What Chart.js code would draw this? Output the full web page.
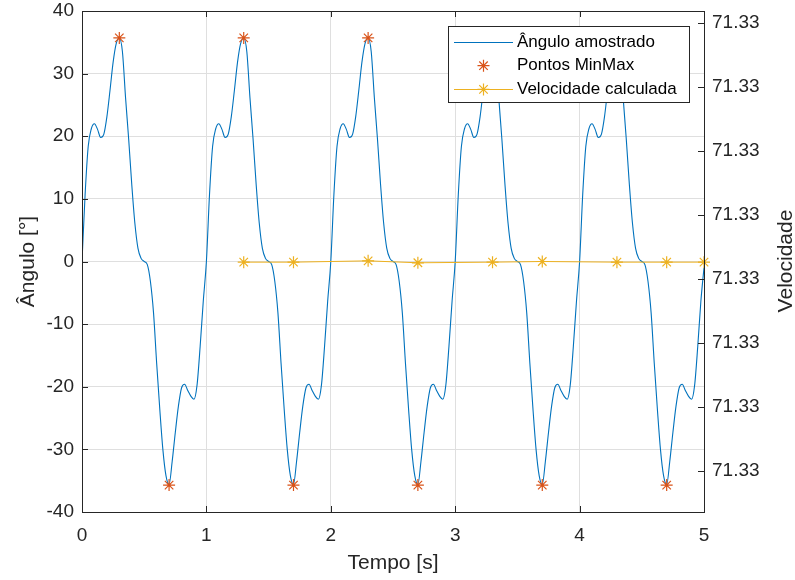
<!DOCTYPE html>
<html>
<head>
<meta charset="utf-8">
<script src="https://cdn.jsdelivr.net/npm/chart.js@4.4.1/dist/chart.umd.min.js"></script>
<style>
  body { margin: 0; background: #fff; }
</style>
</head>
<body>
<canvas id="angleChart" width="795" height="580"></canvas>
<script>
// sampled angle, one value every 0.025 s from 0 to 5 s
const sampleStep = 0.025;
const angleValues = [
  0, 10.7, 18.4, 21.2, 22.0, 21.1, 19.8, 20.3, 23.1, 27.3,
  31.8, 34.8, 35.7, 33.5, 26.2, 19.6, 12.3, 6.1, 2.1, 0.5,
  0, -0.5, -3.2, -8.2, -16.2, -23.5, -30.0, -34.2, -35.6, -31.9,
  -27.3, -23.1, -20.2, -19.6, -20.6, -21.5, -22.0, -19.7, -13.5, -6.3,
  0, 10.7, 18.4, 21.2, 22.0, 21.1, 19.8, 20.3, 23.1, 27.3,
  31.8, 34.8, 35.7, 33.5, 26.2, 19.6, 12.3, 6.1, 2.1, 0.5,
  0, -0.5, -3.2, -8.2, -16.2, -23.5, -30.0, -34.2, -35.6, -31.9,
  -27.3, -23.1, -20.2, -19.6, -20.6, -21.5, -22.0, -19.7, -13.5, -6.3,
  0, 10.7, 18.4, 21.2, 22.0, 21.1, 19.8, 20.3, 23.1, 27.3,
  31.8, 34.8, 35.7, 33.5, 26.2, 19.6, 12.3, 6.1, 2.1, 0.5,
  0, -0.5, -3.2, -8.2, -16.2, -23.5, -30.0, -34.2, -35.6, -31.9,
  -27.3, -23.1, -20.2, -19.6, -20.6, -21.5, -22.0, -19.7, -13.5, -6.3,
  0, 10.7, 18.4, 21.2, 22.0, 21.1, 19.8, 20.3, 23.1, 27.3,
  31.8, 34.8, 35.7, 33.5, 26.2, 19.6, 12.3, 6.1, 2.1, 0.5,
  0, -0.5, -3.2, -8.2, -16.2, -23.5, -30.0, -34.2, -35.6, -31.9,
  -27.3, -23.1, -20.2, -19.6, -20.6, -21.5, -22.0, -19.7, -13.5, -6.3,
  0, 10.7, 18.4, 21.2, 22.0, 21.1, 19.8, 20.3, 23.1, 27.3,
  31.8, 34.8, 35.7, 33.5, 26.2, 19.6, 12.3, 6.1, 2.1, 0.5,
  0, -0.5, -3.2, -8.2, -16.2, -23.5, -30.0, -34.2, -35.6, -31.9,
  -27.3, -23.1, -20.2, -19.6, -20.6, -21.5, -22.0, -19.7, -13.5, -6.3,
  -1
];

const minMaxTimes = [0.3, 0.7, 1.3, 1.7, 2.3, 2.7, 3.3, 3.7, 4.3, 4.7];
const minMaxValues = [35.7, -35.7, 35.7, -35.7, 35.7, -35.7, 35.7, -35.7, 35.7, -35.7];

const velTimes = [1.3, 1.7, 2.3, 2.7, 3.3, 3.7, 4.3, 4.7, 5.0];
const velValues = [71.33330426, 71.33330426, 71.33330428, 71.33330425, 71.33330426,
  71.33330427, 71.33330426, 71.33330426, 71.33330426];

const xTicks = [0, 1, 2, 3, 4, 5];
const angleTicks = [-40, -30, -20, -10, 0, 10, 20, 30, 40];
const velTicks = [71.333301, 71.333302, 71.333303, 71.333304, 71.333305, 71.333306, 71.333307, 71.333308];
const velMin = 71.33330036;
const velMax = 71.33330818;

const BLUE = "#0072BD";
const RED = "#D95319";
const YELLOW = "#EDB120";
const AXIS = "#262626";
const GRID = "#dfdfdf";
const FONT = "'Liberation Sans', Arial, sans-serif";

const anglePoints = angleValues.map((v, i) => ({ x: i * sampleStep, y: v }));
const minMaxPoints = minMaxTimes.map((t, i) => ({ x: t, y: minMaxValues[i] }));
const velPoints = velTimes.map((t, i) => ({ x: t, y: velValues[i] }));

function px(v) {
  return Math.round(v) + 0.5;
}

// MATLAB style box, inward ticks, legend and right label
const matlabAxes = {
  id: "matlabAxes",
  afterDatasetsDraw(chart) {
    const { ctx, chartArea: a, scales } = chart;
    const tick = 6;
    ctx.save();
    ctx.strokeStyle = AXIS;
    ctx.lineWidth = 1;
    ctx.beginPath();
    xTicks.forEach((t) => {
      const x = px(scales.x.getPixelForValue(t));
      ctx.moveTo(x, a.bottom);
      ctx.lineTo(x, a.bottom - tick);
      ctx.moveTo(x, a.top);
      ctx.lineTo(x, a.top + tick);
    });
    angleTicks.forEach((v) => {
      const y = px(scales.y.getPixelForValue(v));
      ctx.moveTo(a.left, y);
      ctx.lineTo(a.left + tick, y);
    });
    velTicks.forEach((v) => {
      const y = px(scales.y2.getPixelForValue(v));
      ctx.moveTo(a.right, y);
      ctx.lineTo(a.right - tick, y);
    });
    ctx.stroke();
    ctx.strokeRect(px(a.left), px(a.top), Math.round(a.right - a.left), Math.round(a.bottom - a.top));
    ctx.restore();
  },
  afterDraw(chart) {
    const { ctx } = chart;
    ctx.save();

    // right axis title, read bottom to top
    ctx.translate(786, 261);
    ctx.rotate(-Math.PI / 2);
    ctx.fillStyle = AXIS;
    ctx.font = "21px " + FONT;
    ctx.textAlign = "center";
    ctx.textBaseline = "middle";
    ctx.fillText("Velocidade", 0, 0);
    ctx.setTransform(1, 0, 0, 1, 0, 0);

    // legend box
    const bx = 448.5, by = 26.5, bw = 241, bh = 76;
    ctx.fillStyle = "#fff";
    ctx.fillRect(bx, by, bw, bh);
    ctx.strokeStyle = AXIS;
    ctx.lineWidth = 1;
    ctx.strokeRect(bx, by, bw, bh);

    const rows = [
      { text: "Ângulo amostrado", color: BLUE, line: true, star: false },
      { text: "Pontos MinMax", color: RED, line: false, star: true },
      { text: "Velocidade calculada", color: YELLOW, line: true, star: true },
    ];
    ctx.font = "17px " + FONT;
    ctx.textAlign = "left";
    ctx.textBaseline = "middle";
    rows.forEach((r, i) => {
      const y = 42 + i * 23.7;
      if (r.line) {
        ctx.strokeStyle = r.color;
        ctx.lineWidth = 1;
        ctx.beginPath();
        ctx.moveTo(454, Math.round(y) + 0.5);
        ctx.lineTo(513, Math.round(y) + 0.5);
        ctx.stroke();
      }
      if (r.star) {
        ctx.strokeStyle = r.color;
        ctx.lineWidth = 1.2;
        Chart.helpers.drawPoint(ctx, { pointStyle: "star", radius: 6, borderWidth: 1.2 }, 483.5, y);
      }
      ctx.fillStyle = "#000";
      ctx.fillText(r.text, 517, y);
    });
    ctx.restore();
  },
};

// fixed axis sizes so the plot box sits where it does in the figure
function fitVertical(width) {
  return (s) => {
    s.width = width;
    s.paddingTop = 0;
    s.paddingBottom = 0;
  };
}

const ctx = document.getElementById("angleChart");

new Chart(ctx, {
  type: "line",
  data: {
    datasets: [
      {
        label: "Pontos MinMax",
        data: minMaxPoints,
        showLine: false,
        yAxisID: "y",
        pointStyle: "star",
        pointRadius: 6,
        pointBorderColor: RED,
        pointBorderWidth: 1.2,
        borderColor: RED,
        order: 0,
      },
      {
        label: "Velocidade calculada",
        data: velPoints,
        yAxisID: "y2",
        borderColor: YELLOW,
        borderWidth: 1,
        pointStyle: "star",
        pointRadius: 6,
        pointBorderColor: YELLOW,
        pointBorderWidth: 1.2,
        clip: false,
        order: 1,
      },
      {
        label: "Ângulo amostrado",
        data: anglePoints,
        yAxisID: "y",
        borderColor: BLUE,
        borderWidth: 1.1,
        pointRadius: 0,
        cubicInterpolationMode: "monotone",
        order: 2,
      },
    ],
  },
  options: {
    responsive: false,
    animation: false,
    layout: { padding: { top: 11, left: 0, right: 0, bottom: 0 } },
    plugins: {
      legend: { display: false },
      tooltip: { enabled: false },
    },
    scales: {
      x: {
        type: "linear",
        min: 0,
        max: 5,
        ticks: { stepSize: 1, color: AXIS, font: { family: FONT, size: 19 }, padding: 12, maxRotation: 0 },
        grid: { color: GRID, drawTicks: false },
        border: { display: false },
        title: {
          display: true,
          text: "Tempo [s]",
          color: AXIS,
          font: { family: FONT, size: 21 },
          padding: { top: 0, bottom: 4.4 },
        },
        afterFit: (s) => { s.height = 68; },
      },
      y: {
        position: "left",
        min: -40,
        max: 40,
        ticks: { stepSize: 10, color: AXIS, font: { family: FONT, size: 19 }, padding: 8 },
        grid: { color: GRID, drawTicks: false },
        border: { display: false },
        title: {
          display: true,
          text: "Ângulo [°]",
          color: AXIS,
          font: { family: FONT, size: 21 },
          padding: { top: 16, bottom: 0 },
        },
        afterFit: fitVertical(82),
      },
      y2: {
        position: "right",
        min: velMin,
        max: velMax,
        bounds: "data",
        ticks: {
          color: AXIS,
          font: { family: FONT, size: 19 },
          padding: 8,
          callback: (v) => Number(v).toFixed(2),
        },
        afterBuildTicks: (s) => { s.ticks = velTicks.map((v) => ({ value: v })); },
        grid: { display: false, drawTicks: false },
        border: { display: false },
        afterFit: fitVertical(91),
      },
    },
  },
  plugins: [matlabAxes],
});
</script>
</body>
</html>
